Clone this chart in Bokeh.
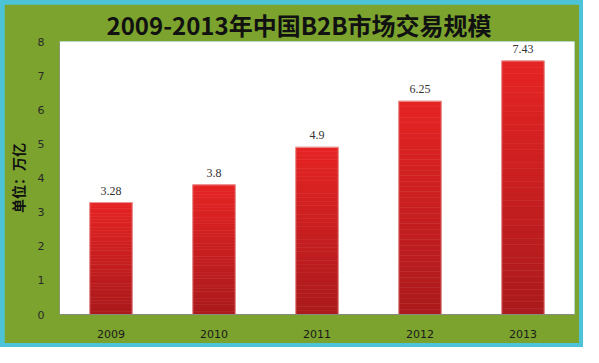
from bokeh.plotting import figure
from bokeh.models import ColumnDataSource, LabelSet, FixedTicker, Range1d
from bokeh.layouts import column
from bokeh.embed import file_html
from bokeh.resources import INLINE

years = ["2009", "2010", "2011", "2012", "2013"]
values = [3.28, 3.8, 4.9, 6.25, 7.43]
value_labels = ["3.28", "3.8", "4.9", "6.25", "7.43"]
y_ticks = [0, 1, 2, 3, 4, 5, 6, 7, 8]

title_text = "2009-2013年中国B2B市场交易规模"
y_label = "单位：万亿"

GREEN = "#7ba32e"
CYAN = "#4cc3d6"
FONT = "Noto Sans CJK SC"

p = figure(x_range=years, y_range=Range1d(0, 8), width=575, height=339,
           output_backend="svg", toolbar_location=None,
           min_border_left=49, min_border_right=5, min_border_top=0,
           min_border_bottom=29, background_fill_color="white",
           border_fill_color=GREEN, outline_line_color=None,
           margin=(4, 4, 4, 4))

# gradient bars built as thin slices of each bar
N = 40
top_c = (230, 36, 36)
bot_c = (170, 26, 28)
xs, bots, tops, cols = [], [], [], []
for yr, v in zip(years, values):
    for k in range(N):
        t = (k + 0.5) / N
        c = tuple(int(round(bot_c[j] + (top_c[j] - bot_c[j]) * t)) for j in range(3))
        xs.append(yr)
        bots.append(v * k / N)
        tops.append(v * (k + 1) / N)
        cols.append("#%02x%02x%02x" % c)
p.vbar(x=xs, bottom=bots, top=tops, width=0.413, fill_color=cols,
       line_color=cols, line_width=0.6)

src = ColumnDataSource(dict(x=years, top=values, lab=value_labels))
p.vbar(x="x", top="top", width=0.413, source=src, fill_alpha=0,
       line_color="#e99a9a", line_width=1)

labels = LabelSet(x="x", y="top", text="lab", source=src, y_offset=8,
                  text_align="center", text_baseline="bottom",
                  text_font_size="12px", text_color="#333333",
                  text_font="DejaVu Sans")
p.add_layout(labels)

p.title.text = title_text
p.title.text_font = FONT
p.title.text_font_size = "24px"
p.title.text_font_style = "bold"
p.title.text_color = "#111111"
p.title.align = "left"
p.title.offset = 47
p.title.standoff = 0

p.xgrid.grid_line_color = None
p.ygrid.grid_line_color = None

p.yaxis.ticker = FixedTicker(ticks=y_ticks)
p.yaxis.axis_label = y_label
p.yaxis.axis_label_text_font = FONT
p.yaxis.axis_label_text_font_size = "14px"
p.yaxis.axis_label_text_font_style = "bold"
p.yaxis.axis_label_text_color = "#111111"
p.yaxis.axis_label_standoff = 7
p.yaxis.axis_line_color = "#8a9a70"
p.yaxis.major_tick_line_color = None
p.yaxis.minor_tick_line_color = None
p.yaxis.major_tick_out = 0
p.yaxis.major_tick_in = 0
p.yaxis.minor_tick_out = 0
p.yaxis.major_label_standoff = 15
p.yaxis.major_label_text_font_size = "11px"
p.yaxis.major_label_text_color = "#2a2a2a"
p.yaxis.major_label_text_font = "DejaVu Sans"

p.xaxis.axis_line_color = "#8a8a7a"
p.xaxis.major_tick_line_color = None
p.xaxis.minor_tick_line_color = None
p.xaxis.major_tick_out = 0
p.xaxis.major_tick_in = 0
p.xaxis.minor_tick_out = 0
p.xaxis.major_label_standoff = 15
p.xaxis.major_label_text_font_size = "11px"
p.xaxis.major_label_text_color = "#1a1a1a"
p.xaxis.major_label_text_font = "DejaVu Sans"

layout = column(p, styles={"background-color": CYAN})

open("out.html", "w").write(file_html(layout, INLINE))
